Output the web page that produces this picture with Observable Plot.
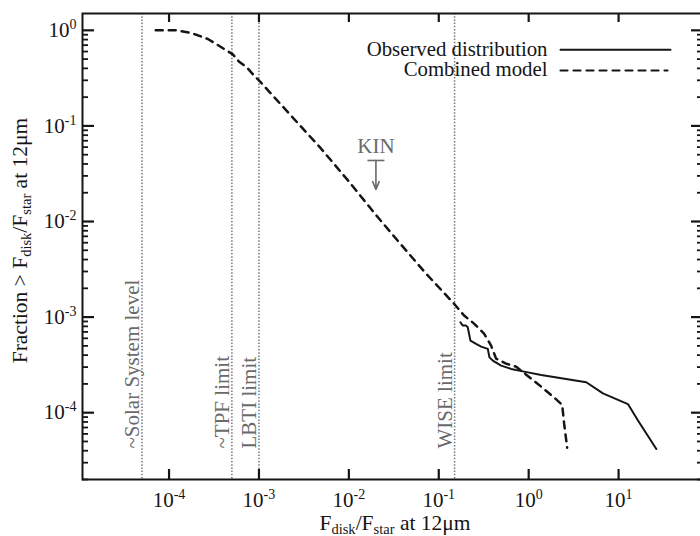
<!DOCTYPE html>
<html><head><meta charset="utf-8">
<script src="https://cdn.jsdelivr.net/npm/d3@7"></script>
<script src="https://cdn.jsdelivr.net/npm/@observablehq/plot@0.6"></script>
<style>html,body{margin:0;padding:0;background:#fff;} #chart{width:700px;height:536px;overflow:hidden;}</style>
</head><body><div id="chart"></div>
<script>
// ---- data ----
const modelX = [7.11e-5, 1.19e-4, 1.70e-4, 2.09e-4, 2.70e-4, 3.40e-4, 4.17e-4, 5.12e-4, 5.97e-4, 7.33e-4, 8.77e-4, 1.05e-3, 1.29e-3,
  2.26e-3, 4.89e-3, 9.77e-3, 0.0216, 0.0380, 0.0722, 0.148,
  0.191, 0.247, 0.319, 0.382, 0.434, 0.561, 0.726, 0.938, 1.38, 1.92, 2.36, 2.48, 2.68];
const modelY = [1.0, 1.0, 0.946, 0.887, 0.811, 0.713, 0.632, 0.561, 0.473, 0.410, 0.338, 0.285, 0.230,
  0.129, 0.0581, 0.0269, 0.01074, 5.74e-3, 2.85e-3, 1.38e-3,
  1.04e-3, 8.55e-4, 6.72e-4, 5.03e-4, 3.68e-4, 3.26e-4, 3.03e-4, 2.50e-4, 1.87e-4, 1.44e-4, 1.21e-4, 7.67e-5, 4.30e-5];
const observedX = [0.174, 0.185, 0.201, 0.210, 0.225, 0.260, 0.296, 0.351, 0.366, 0.399, 0.494, 0.638, 0.98, 1.38, 4.37, 6.70, 12.7, 16.5, 26.3];
const observedY = [8.83e-4, 8.15e-4, 8.15e-4, 7.82e-4, 5.67e-4, 5.24e-4, 4.91e-4, 4.65e-4, 3.79e-4, 3.51e-4, 3.11e-4, 2.87e-4, 2.64e-4, 2.48e-4, 2.08e-4, 1.59e-4, 1.23e-4, 8.24e-5, 4.17e-5];
const refX = [5e-5, 5e-4, 1e-3, 0.15];
const refLabels = ["~Solar System level", "~TPF limit", "LBTI limit", "WISE limit"];
const kinLabel = ["KIN"];
const kinX = [0.02];
const kinYTop = [0.0435];
const kinYTip = [0.0216];
const legendLabels = ["Observed distribution", "Combined model"];
const xTicks = [1e-4, 1e-3, 1e-2, 1e-1, 1, 10];
const yTicks = [1e-4, 1e-3, 1e-2, 1e-1, 1];
const yMinorTicks = [2e-5, 3e-5, 4e-5, 5e-5, 6e-5, 7e-5, 8e-5, 9e-5,
  2e-4, 3e-4, 4e-4, 5e-4, 6e-4, 7e-4, 8e-4, 9e-4,
  2e-3, 3e-3, 4e-3, 5e-3, 6e-3, 7e-3, 8e-3, 9e-3,
  0.02, 0.03, 0.04, 0.05, 0.06, 0.07, 0.08, 0.09,
  0.2, 0.3, 0.4, 0.5, 0.6, 0.7, 0.8, 0.9];
const xLabel = "F_{disk}/F_{star} at 12μm";
const yLabel = "Fraction > F_{disk}/F_{star} at 12μm";

// ---- build tables ----
const model = modelX.map((x, i) => ({x, y: modelY[i]}));
const observed = observedX.map((x, i) => ({x, y: observedY[i]}));
const refs = refX.map((x, i) => ({x, label: refLabels[i]}));
const kin = kinX.map((x, i) => ({x, y1: kinYTop[i], y2: kinYTip[i], label: kinLabel[i]}));

const INK = "#151515", GRAY = "#6a6a6a", DOT = "#777777";
const FONT = "'Liberation Serif', 'Times New Roman', serif";
const W = 700, H = 536, ML = 82, MR = -3, MT = 13, MB = 57;
const FW = W - ML - MR, FH = H - MT - MB; // frame size in px
const expFmt = d => `10^{${Math.round(Math.log10(d))}}`;
const lineShape = {draw(ctx, l) { ctx.moveTo(0, 0); ctx.lineTo(0, -l); }};
const barSymbol = {draw(ctx, size) { const r = Math.sqrt(size / Math.PI); ctx.moveTo(-r, 0); ctx.lineTo(r, 0); }};

// inward ticks: full-frame ticks inset down to the wanted length
const ticksBottom = (v, len, sw) => Plot.tickX(v, {x: d => d, insetTop: FH - len, stroke: INK, strokeWidth: sw});
const ticksTop = (v, len, sw) => Plot.tickX(v, {x: d => d, insetBottom: FH - len, stroke: INK, strokeWidth: sw});
const ticksLeft = (v, len, sw) => Plot.tickY(v, {y: d => d, insetRight: FW - len, stroke: INK, strokeWidth: sw});
const ticksRight = (v, len, sw) => Plot.tickY(v, {y: d => d, insetLeft: FW - len, stroke: INK, strokeWidth: sw});

const chart = Plot.plot({
  width: W, height: H,
  marginLeft: ML, marginRight: MR, marginTop: MT, marginBottom: MB,
  style: {fontFamily: FONT, fontSize: "21px", color: INK, background: "#fff"},
  x: {type: "log", domain: [1.09e-5, 88]},
  y: {type: "log", domain: [2e-5, 1.5]},
  marks: [
    // reference lines
    Plot.ruleX(refs, {x: "x", stroke: DOT, strokeWidth: 1.5, strokeDasharray: "1.5,1.7"}),
    Plot.text(refs, {x: "x", text: "label", frameAnchor: "bottom", dy: -31, dx: -2.6, rotate: -90,
      textAnchor: "start", lineAnchor: "bottom", fill: GRAY, fontSize: 21}),
    // curves
    Plot.line(model, {x: "x", y: "y", stroke: INK, strokeWidth: 2.5, strokeDasharray: "7,6"}),
    Plot.line(observed, {x: "x", y: "y", stroke: INK, strokeWidth: 2}),
    // KIN upper-limit marker
    Plot.arrow(kin, {x1: "x", x2: "x", y1: "y1", y2: "y2", stroke: GRAY, strokeWidth: 1.6, headLength: 8, headAngle: 45}),
    Plot.dot(kin, {x: "x", y: "y1", r: 8.5, symbol: barSymbol, stroke: GRAY, strokeWidth: 1.6, fill: "none"}),
    Plot.text(kin, {x: "x", y: "y1", text: "label", dy: -7, lineAnchor: "bottom", fill: GRAY, fontSize: 21}),
    // legend
    Plot.text([legendLabels[0]], {text: d => d, frameAnchor: "top-right", dx: -156, dy: 42, textAnchor: "end", lineAnchor: "bottom", fontSize: 20.8, fill: INK}),
    Plot.text([legendLabels[1]], {text: d => d, frameAnchor: "top-right", dx: -156, dy: 62, textAnchor: "end", lineAnchor: "bottom", fontSize: 20.8, fill: INK}),
    Plot.vector([0], {frameAnchor: "top-right", dx: -143, dy: 36.3, rotate: 90, length: 110, anchor: "start", shape: lineShape, stroke: INK, strokeWidth: 2}),
    Plot.vector([0], {frameAnchor: "top-right", dx: -143, dy: 57, rotate: 90, length: 107, anchor: "start", shape: lineShape, stroke: INK, strokeWidth: 2.2, strokeDasharray: "7,6"}),
    // ticks pointing inward
    ticksBottom(xTicks, 10, 2.2),
    ticksTop(xTicks, 9, 2.2),
    ticksLeft(yTicks, 12, 2.2),
    ticksLeft(yMinorTicks, 6, 1.8),
    ticksRight(yTicks, 12, 2.2),
    ticksRight(yMinorTicks, 6, 1.8),
    // tick labels
    Plot.axisX(xTicks, {anchor: "bottom", tickSize: 0, tickPadding: 12.5, stroke: "none", label: null, tickFormat: expFmt, fontSize: 21, fill: INK}),
    Plot.axisY(yTicks, {anchor: "left", tickSize: 0, tickPadding: 6, stroke: "none", label: null, tickFormat: expFmt, fontSize: 21, fill: INK}),
    // axis titles
    Plot.text([xLabel], {text: d => d, frameAnchor: "bottom", dx: 2, dy: 50, textAnchor: "middle", lineAnchor: "bottom", fontSize: 21.5, fill: INK}),
    Plot.text([yLabel], {text: d => d, frameAnchor: "left", dx: -56, dy: -6, rotate: -90, textAnchor: "middle", lineAnchor: "bottom", fontSize: 21.5, fill: INK}),
    Plot.frame({stroke: INK, strokeWidth: 2})
  ]
});

// rich text: ^{...} superscripts, _{...} subscripts
const NS = "http://www.w3.org/2000/svg";
chart.querySelectorAll("text").forEach(t => {
  const s = t.textContent;
  if (!/[\^_]\{/.test(s) || t.querySelector("tspan")) return;
  const parts = [];
  const re = /([\^_])\{([^}]*)\}/g;
  let last = 0, m;
  while ((m = re.exec(s))) {
    if (m.index > last) parts.push({t: s.slice(last, m.index), k: ""});
    parts.push({t: m[2], k: m[1]});
    last = re.lastIndex;
  }
  if (last < s.length) parts.push({t: s.slice(last), k: ""});
  t.textContent = "";
  let cur = 0;
  for (const p of parts) {
    const ts = document.createElementNS(NS, "tspan");
    const target = p.k === "^" ? -8 : p.k === "_" ? 4.5 : 0;
    if (target !== cur) ts.setAttribute("dy", target - cur);
    cur = target;
    if (p.k) ts.setAttribute("font-size", p.k === "^" ? 14 : 14.5);
    ts.textContent = p.t;
    t.appendChild(ts);
  }
});

document.getElementById("chart").appendChild(chart);
</script>
</body></html>
